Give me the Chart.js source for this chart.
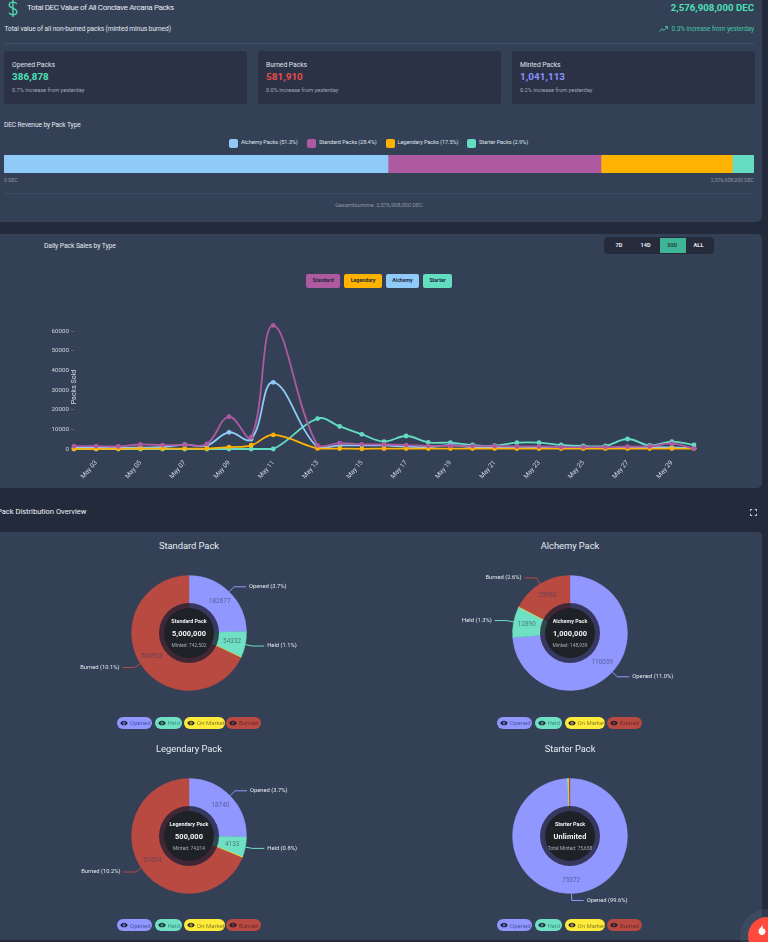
<!DOCTYPE html>
<html><head><meta charset="utf-8">
<script src="https://cdn.jsdelivr.net/npm/chart.js@4"></script>
<style>
html,body{margin:0;padding:0;width:768px;height:942px;overflow:hidden;background:#232a3c;font-family:Roboto,"Noto Sans",sans-serif;color:#e5e9f0}
.b{position:absolute;box-sizing:border-box}
.b svg{display:block}
.t{position:absolute;white-space:nowrap;line-height:1;transform:translateY(-50%)}
.r{transform:translate(-100%,-50%)}
.c{transform:translate(-50%,-50%)}
canvas{position:absolute;display:block}
.pill{position:absolute;height:12px;border-radius:6px;box-sizing:border-box;display:flex;align-items:center;padding-left:3px;font-size:6px;white-space:nowrap}
.pill svg{width:8px;height:8px;margin-right:2px;flex:none}
</style></head><body>
<div id="root"></div>
<script>
// ---------- data ----------
const revenueLabels = ['Alchemy Packs (51.3%)','Standard Packs (28.4%)','Legendary Packs (17.5%)','Starter Packs (2.9%)'];
const revenueShares = [51.2, 28.4, 17.5, 2.9];
const dayLabels = ['May 02','May 03','May 04','May 05','May 06','May 07','May 08','May 09','May 10','May 11','May 12','May 13','May 14','May 15','May 16','May 17','May 18','May 19','May 20','May 21','May 22','May 23','May 24','May 25','May 26','May 27','May 28','May 29','May 30'];
const yTicks = [0,10000,20000,30000,40000,50000,60000];
const standardSales  = [1500,1500,1300,2300,2000,2200,2600,16500,6000,63000,null,1800,3000,2400,2300,2000,1600,1600,1500,1500,1300,1300,1000,1000,1000,1200,1300,2700,200];
const legendarySales = [100,100,100,200,200,200,200,1000,1900,7200,null,300,200,100,200,200,200,200,200,200,200,200,200,200,200,200,200,200,200];
const alchemySales   = [600,700,700,700,1000,2200,1800,8500,5000,34000,null,800,1800,1800,1800,1200,1000,2000,1000,1000,500,700,700,700,700,700,900,800,400];
const starterSales   = [0,0,0,0,0,0,0,0,0,0,null,15500,11500,7500,3800,6630,3400,3200,2040,1700,3200,3200,2040,1530,1600,5100,1800,3740,2040];
const sliceNames = ['Opened','Held','On Market','Burned'];
const standardPack  = [182677,54332,1200,504933];
const alchemyPack   = [110059,12890,300,25953];
const legendaryPack = [18740,4133,200,51024];
const starterPack   = [75372,240,180,220];
const standardPct  = ['3.7','1.1','0.0','10.1'];
const alchemyPct   = ['11.0','1.3','0.0','2.6'];
const legendaryPct = ['3.7','0.8','0.0','10.2'];
const starterPct   = ['99.6','0.2','0.1','0.1'];

// ---------- colours ----------
const cAlch='#90caf9',cStd='#ad5aa0',cLeg='#ffb300',cStart='#64dcc2';
const sliceColors=['#9097ff','#6fe0c3','#ffeb3b','#b84a42'];
const pillText=['#4f54a8','#3a9580','#8f8420','#6e2a2a'];
const root=document.getElementById('root');
function box(x,y,w,h,bg,extra){const d=document.createElement('div');d.className='b';d.style.cssText=`left:${x}px;top:${y}px;width:${w}px;height:${h}px;background:${bg};${extra||''}`;root.appendChild(d);return d;}
function text(x,y,s,size,color,o){o=o||{};const d=document.createElement('div');d.className='t'+(o.a?' '+o.a:'');d.textContent=s;d.style.cssText=`left:${x}px;top:${y}px;font-size:${size}px;color:${color};font-weight:${o.w||400};letter-spacing:${o.ls||0}px;${o.f?'font-family:'+o.f+';':''}`;root.appendChild(d);return d;}
function svg(x,y,w,h,inner,vb){const d=document.createElement('div');d.className='b';d.style.cssText=`left:${x}px;top:${y}px;width:${w}px;height:${h}px`;d.innerHTML=`<svg width="${w}" height="${h}" viewBox="${vb}" fill="none">${inner}</svg>`;root.appendChild(d);}
function canvas(x,y,w,h){const c=document.createElement('canvas');c.style.cssText=`left:${x}px;top:${y}px;width:${w}px;height:${h}px`;c.width=w;c.height=h;root.appendChild(c);return c;}

// ---------- cards ----------
const card='#334056';
box(-8,-8,770,230,card,'border-radius:6px');
box(-8,234,770,254,card,'border-radius:5px');
box(-8,532,770,408,card,'border-radius:4px');

svg(6,-1,14,19,'<path d="M7 .5v17M10.800 4.200C9.800 3 8.500 2.600 7 2.600 5 2.600 3.200 3.700 3.200 5.600c0 4 7.600 2.400 7.600 6.600 0 1.900-1.800 3-3.800 3-1.700 0-3.100-.6-4-1.900" stroke="#4fd9b0" stroke-width="1.400"/>','0 0 14 18');
text(27,8,'Total DEC Value of All Conclave Arcana Packs',8,'#e5e9f0',{ls:-.36});
text(754,8,'2,576,908,000 DEC',9.6,'#4fe0b8',{a:'r',w:700,ls:.05});
text(4.5,29,'Total value of all non-burned packs (minted minus burned)',6.6,'#e5e9f0',{ls:-.07});
text(754,29,'0.3% increase from yesterday',6.6,'#43c6a4',{a:'r',ls:-.12});
svg(659,26,9,6,'<path d="M.5 5.500 3 2.800l2 1.600L8.500.8M6 .6h2.600v2.400" stroke="#4fd9b0" stroke-width=".9"/>','0 0 9 6');
box(4,43,750,1,'#414e66');

const stats=[[4,'Opened Packs','386,878','#4fe0b8','0.7% increase from yesterday'],[258,'Burned Packs','581,910','#ef4b4b','0.0% increase from yesterday'],[512,'Minted Packs','1,041,113','#8a91ff','0.2% increase from yesterday']];
stats.forEach(s=>{box(s[0],51,242.5,53,'#2b3245','border-radius:3px');
 text(s[0]+8,65,s[1],6.8,'#dfe4ec',{ls:-.05});
 text(s[0]+8,77,s[2],9.800,s[3],{w:700,ls:.1});
 text(s[0]+8,91,s[4],5.600,'#a2a9b6',{ls:-.02});});

text(4,125,'DEC Revenue by Pack Type',6.6,'#e5e9f0',{ls:-.1});
[[229,241,cAlch,0],[307,319,cStd,1],[385.5,397.5,cLeg,2],[467,479,cStart,3]].forEach(a=>{
 box(a[0],138.5,9,9,a[2],'border-radius:2px');
 text(a[1],143,revenueLabels[a[3]],5.6,'#dfe4ec',{ls:-.08});});

// stacked revenue bar
const barC=canvas(4,155,750,18);
new Chart(barC,{type:'bar',data:{labels:['DEC'],datasets:[
 {data:[revenueShares[0]],backgroundColor:cAlch},{data:[revenueShares[1]],backgroundColor:cStd},
 {data:[revenueShares[2]],backgroundColor:cLeg},{data:[revenueShares[3]],backgroundColor:cStart}]},
 options:{indexAxis:'y',responsive:false,animation:false,layout:{padding:0},
 datasets:{bar:{barPercentage:1,categoryPercentage:1}},
 plugins:{legend:{display:false},tooltip:{enabled:false}},
 scales:{x:{stacked:true,display:false,min:0,max:100},y:{stacked:true,display:false}}}});
text(4,181,'0 DEC',5.2,'#8d95a5');
text(754,181,'2,576,908,000 DEC',5.2,'#8d95a5',{a:'r'});
box(4,193,750,1,'#3d4a61');
text(379,206,'Gesamtsumme: 2,576,908,000 DEC',5.6,'#8d95a5',{a:'c'});

// ---------- line chart header ----------
text(44,246,'Daily Pack Sales by Type',6.8,'#e5e9f0',{ls:-.1});
box(604,237,110,17,'#252b3a','border-radius:4px');
box(659.5,238,26,15,'#3eb596');
[['7D',619],['14D',645.5],['30D',672],['ALL',698.5]].forEach(a=>text(a[1],245.6,a[0],5.6,a[0]=='30D'?'#1f4a44':'#e5e9f0',{a:'c',w:700}));
[['Standard',306,34,cStd],['Legendary',344,38,cLeg],['Alchemy',386,33,cAlch],['Starter',423,29,cStart]].forEach(a=>{
 box(a[1],274,a[2],14,a[3],'border-radius:2px');
 text(a[1]+a[2]/2,280.8,a[0],5.2,'#232a3c',{a:'c',w:700});});

// ---------- line chart ----------
const lineC=canvas(30,295,690,193);
const yTitle={id:'yTitle',afterDraw(ch){const c=ch.ctx;c.save();c.translate(44,92);c.rotate(-Math.PI/2);c.font='7px Roboto';c.fillStyle='#d5d9e1';c.textAlign='center';c.textBaseline='middle';c.fillText('Packs Sold',0,0);c.restore();}};
const ds=(label,data,col)=>({label,data,borderColor:col,backgroundColor:col,borderWidth:1.8,pointRadius:2.4,pointBorderWidth:0,tension:.4,spanGaps:true,clip:false});
new Chart(lineC,{type:'line',plugins:[yTitle],data:{labels:dayLabels,datasets:[
 ds('Standard',standardSales,cStd),ds('Legendary',legendarySales,cLeg),ds('Alchemy',alchemySales,cAlch),ds('Starter',starterSales,cStart)]},
 options:{responsive:false,animation:false,layout:{padding:{top:26.5,right:26,left:0,bottom:0}},
 plugins:{legend:{display:false},tooltip:{enabled:false}},
 scales:{
  x:{offset:false,afterFit(a){a.height=39;},grid:{display:false},border:{display:false},
   ticks:{autoSkip:false,maxRotation:50,minRotation:50,color:'#d0d5de',font:{size:6.6,family:'Roboto'},padding:2,
    callback(v,i){return i%2==1?dayLabels[i]:null;}}},
  y:{min:0,max:65000,afterFit(a){a.width=44;},afterBuildTicks(a){a.ticks=yTicks.map(value=>({value}));},
   border:{display:false,dash:[2,3]},grid:{color:'rgba(255,255,255,.028)',tickColor:'#6a768c',tickLength:3,drawTicks:true,lineWidth:.6},
   ticks:{autoSkip:false,color:'#d0d5de',font:{size:6.2,family:'Roboto'},padding:2,callback(v){return String(v);}}}}}});

// ---------- pack section header ----------
box(0,488,762,44,'#232a3c');
text(-3,512,'Pack Distribution Overview',7.6,'#eef1f5',{ls:-.03});
svg(750,509,7,7,'<path d="M.5 2.200V.5h1.700M4.800.5h1.700v1.700M6.500 4.800v1.700H4.800M2.200 6.500H.5V4.800" stroke="#e5e9f0" stroke-width=".9"/>','0 0 7 7');

// ---------- doughnuts ----------
const doughnutPlugin={id:'packLabels',afterDraw(ch){
 const c=ch.ctx,o=ch.options.plugins.packLabels,arcs=ch.getDatasetMeta(0).data,vals=ch.data.datasets[0].data,sum=vals.reduce((a,b)=>a+b,0);
 const cx=arcs[0].x,cy=arcs[0].y,R=arcs[0].outerRadius;
 c.save();
 c.beginPath();c.arc(cx,cy,30,0,7);c.fillStyle=o.ringColor;c.fill();
 c.beginPath();c.arc(cx,cy,25,0,7);c.fillStyle='#1e2126';c.fill();
 c.textBaseline='middle';
 arcs.forEach((a,i)=>{
  const share=vals[i]/sum; if(share<0.02) return;
  const mid=(a.startAngle+a.endAngle)/2,cs=Math.cos(mid),sn=Math.sin(mid);
  c.font='6.4px Roboto';c.textAlign='center';c.fillStyle='rgba(51,60,90,.62)';
  c.fillText(String(vals[i]),cx+44*cs,cy+44*sn);
  const right=cs>=0||Math.abs(cs)<.02;
  const x1=cx+R*cs,y1=cy+R*sn,x2=cx+(R+7)*cs,y2=cy+(R+7)*sn,x3=x2+(right?1:-1)*12;
  c.beginPath();c.moveTo(x1,y1);c.lineTo(x2,y2);c.lineTo(x3,y2);c.strokeStyle=sliceColors[i];c.lineWidth=1;c.stroke();
  c.font='5.8px Roboto';c.textAlign=right?'left':'right';c.fillStyle='#e5e9f0';
  c.fillText(sliceNames[i]+' ('+o.pct[i]+'%)',x3+(right?3:-3),y2);
 });
 c.restore();}};
function pack(cx,cy,title,vals,pct,big,sub,pillX,pillY){
 const w=360,h=150,cv=canvas(cx-w/2,cy-h/2,w,h);
 new Chart(cv,{type:'doughnut',plugins:[doughnutPlugin],data:{labels:sliceNames,datasets:[{data:vals,backgroundColor:sliceColors,borderColor:sliceColors,borderWidth:.4}]},
  options:{responsive:false,animation:false,cutout:25,radius:57.5,rotation:0,layout:{padding:0},
   plugins:{legend:{display:false},tooltip:{enabled:false},packLabels:{pct,ringColor:'rgba(30,30,50,.78)'}}}});
 text(cx,cy-87,title,9.4,'#e8edf5',{a:'c',ls:-.05});
 text(cx,cy-11,title,5.4,'#f0f2f5',{a:'c',w:700});
 text(cx,cy+.5,big,7.4,'#f5f6f8',{a:'c',w:700,ls:.1});
 text(cx,cy+12,sub,4.9,'#a9adb5',{a:'c'});
 const widths=[35,27.5,40.5,35],xs=pillX;
 sliceNames.forEach((n,i)=>{const d=document.createElement('div');d.className='pill';
  d.style.cssText=`left:${xs[i]}px;top:${pillY}px;width:${widths[i]}px;background:${sliceColors[i]};color:${pillText[i]}`;
  d.innerHTML='<svg viewBox="0 0 24 24"><path fill="#14172a" d="M12 5C7 5 2.700 8 1 12c1.700 4 6 7 11 7s9.300-3 11-7c-1.700-4-6-7-11-7zm0 11.500a4.500 4.500 0 1 1 0-9 4.500 4.500 0 0 1 0 9zm0-7a2.500 2.500 0 1 0 0 5 2.500 2.500 0 0 0 0-5z"/></svg><span></span>';
  d.lastChild.textContent=n;root.appendChild(d);});
}
pack(189,633,'Standard Pack',standardPack,standardPct,'5,000,000','Minted: 742,502',[117,154.5,184,226],716.5);
pack(570,633,'Alchemy Pack',alchemyPack,alchemyPct,'1,000,000','Minted: 148,939',[497,534.5,564.5,607],716.5);
pack(189,836,'Legendary Pack',legendaryPack,legendaryPct,'500,000','Minted: 74,014',[117,154.5,184,226],919);
pack(570,836,'Starter Pack',starterPack,starterPct,'Unlimited','Total Minted: 75,658',[497,534.5,564.5,607],919);

// ---------- floating button ----------
box(740,909,54,54,'rgba(90,100,120,.25)','border-radius:50%');
box(748,917,38,38,'#ff4a3d','border-radius:50%');
svg(758,925,8,10,'<path d="M4 0c.4 2-2.800 3-3.400 5.500C.2 8 2 10 4 10s3.800-1.800 3.400-4.300C7.200 4.500 6.400 4 6 3c-.3 1-.8 1.300-1.200 1.300C5 3 5 1 4 0z" fill="#fff"/>','0 0 8 10');
</script>
</body></html>
